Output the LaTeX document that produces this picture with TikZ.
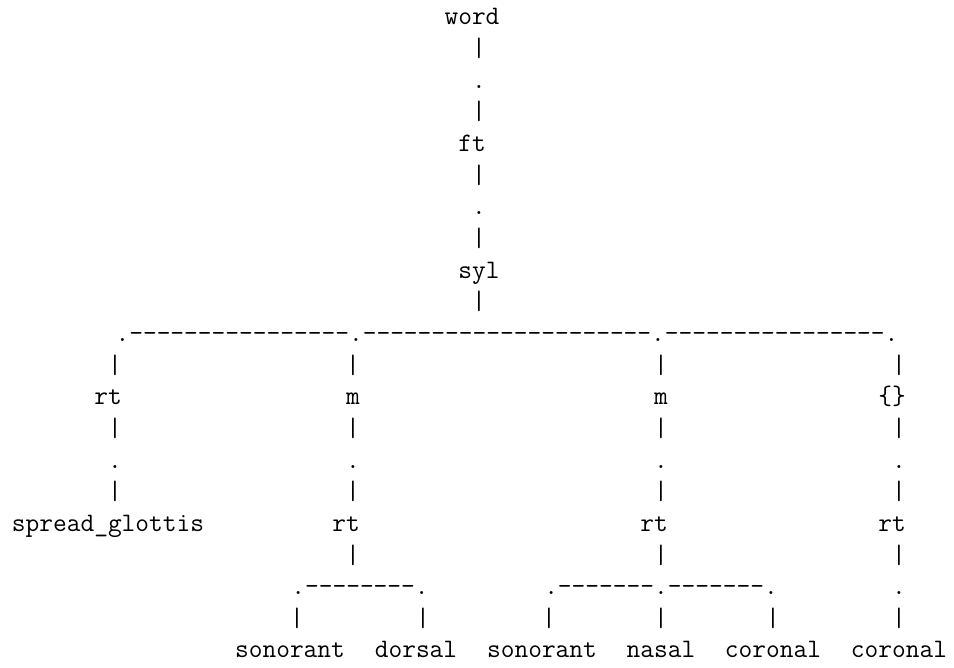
\documentclass[tikz,border=0pt]{standalone}
% character grid: column c is centred at 17+14c, row r has its baseline at 643-31.65r
\newcommand\gx[1]{17+14*(#1)}
\newcommand\gy[1]{643-31.65*(#1)}
% a run of n hyphens, kept apart so that no dash ligature forms
\newcommand\dashrun[1]{\foreach \i in {1,...,#1}{-\kern0pt}}
\begin{document}
\begin{tikzpicture}[x=1pt,y=1pt,
  tt/.style={inner sep=0pt, outer sep=0pt, anchor=base,
    font=\fontsize{26.67}{32}\selectfont\ttfamily}]
\useasboundingbox (0,0) rectangle (954,668);

% labels
\node[tt] (word) at ({\gx{32.5}},{\gy{0}}) {word};
\node[tt] (ft)   at ({\gx{32.5}},{\gy{4}}) {ft};
\node[tt] (syl)  at ({\gx{33}},{\gy{8}}) {syl};
\node[tt] (rtA)  at ({\gx{6.5}},{\gy{12}}) {rt};
\node[tt] (mA)   at ({\gx{24}},{\gy{12}}) {m};
\node[tt] (mB)   at ({\gx{46}},{\gy{12}}) {m};
\node[tt] (empty) at ({\gx{62.5}},{\gy{12}}) {\{\}};
\node[tt] (sg)   at ({\gx{6.5}},{\gy{16}}) {spread\_glottis};
\node[tt] (rtB)  at ({\gx{23.5}},{\gy{16}}) {rt};
\node[tt] (rtC)  at ({\gx{45.5}},{\gy{16}}) {rt};
\node[tt] (rtD)  at ({\gx{62.5}},{\gy{16}}) {rt};
\node[tt] (son1) at ({\gx{19.5}},{\gy{20}}) {sonorant};
\node[tt] (dor)  at ({\gx{28.5}},{\gy{20}}) {dorsal};
\node[tt] (son2) at ({\gx{37.5}},{\gy{20}}) {sonorant};
\node[tt] (nas)  at ({\gx{46}},{\gy{20}}) {nasal};
\node[tt] (cor1) at ({\gx{54}},{\gy{20}}) {coronal};
\node[tt] (cor2) at ({\gx{63}},{\gy{20}}) {coronal};

% vertical links: bars and dots
\foreach \r/\g in {1/|,2/.,3/|,5/|,6/.,7/|,9/|}
  \node[tt] (top\r) at ({\gx{33}},{\gy{\r}}) {\g};
\foreach \c in {7,24,46,63}{
  \foreach \r/\g in {11/|,13/|,14/.,15/|}
    \node[tt] (k\c-\r) at ({\gx{\c}},{\gy{\r}}) {\g};
}
\foreach \c in {24,46,63}
  \node[tt] (k\c-17) at ({\gx{\c}},{\gy{17}}) {|};
\foreach \c in {20,29,38,46,54,63}
  \node[tt] (j\c-19) at ({\gx{\c}},{\gy{19}}) {|};

% branching rows: dots joined by runs of dashes
\node[tt] (branch-syl) at ({\gx{35}},{\gy{10}})
  {.\dashrun{16}.\dashrun{21}.\dashrun{16}.};
\node[tt] (branch-rtB) at ({\gx{24.5}},{\gy{18}}) {.\dashrun{8}.};
\node[tt] (branch-rtC) at ({\gx{46}},{\gy{18}}) {.\dashrun{7}.\dashrun{7}.};
\node[tt] (branch-rtD) at ({\gx{63}},{\gy{18}}) {.};
\end{tikzpicture}
\end{document}
